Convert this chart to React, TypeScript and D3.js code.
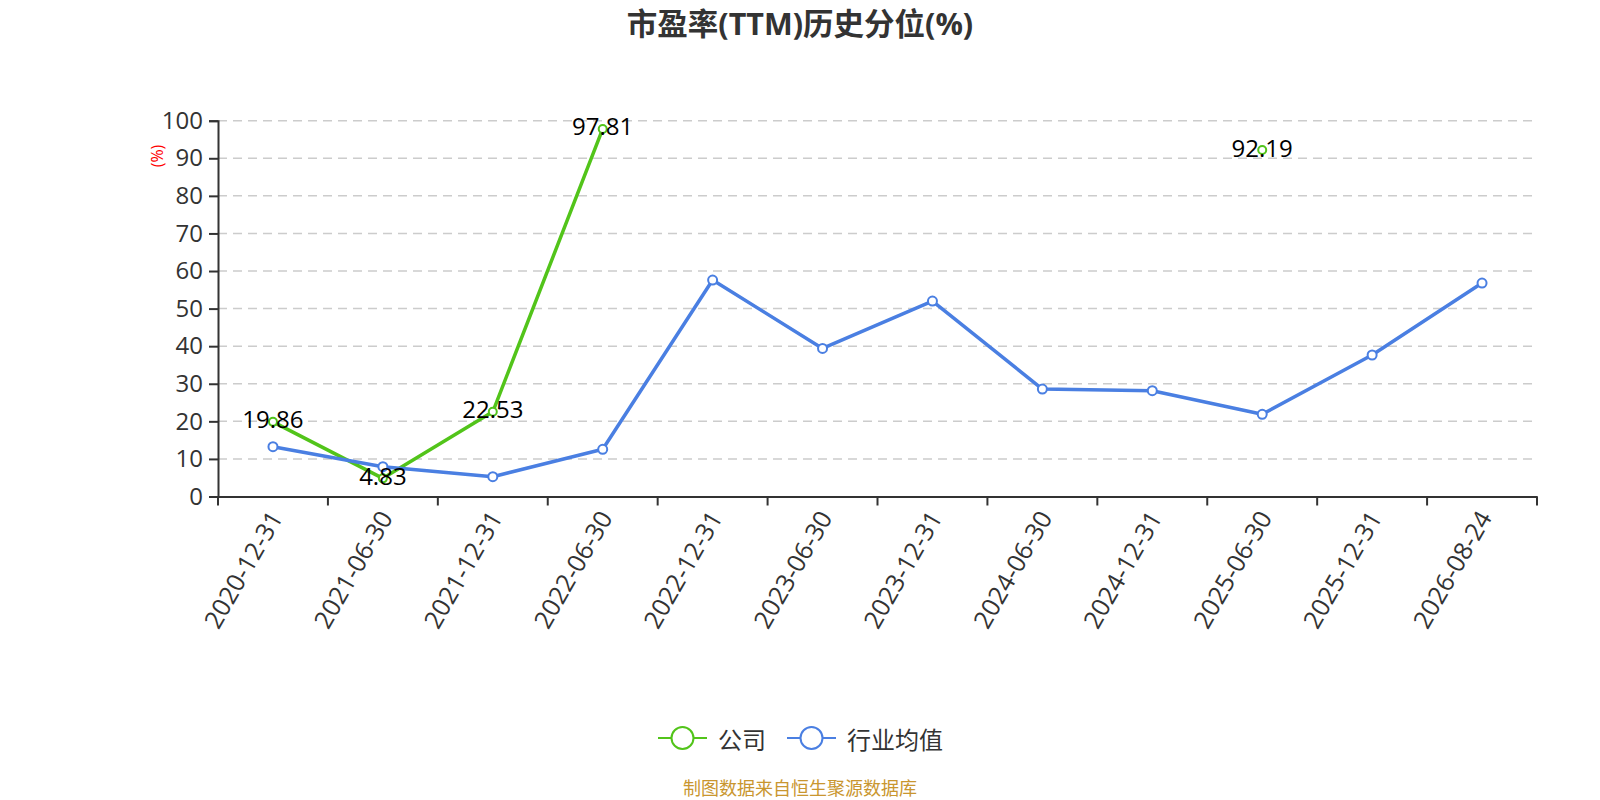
import React, { useEffect, useRef } from 'react';
import * as d3 from 'd3';

const categories = [
  '2020-12-31', '2021-06-30', '2021-12-31', '2022-06-30', '2022-12-31', '2023-06-30',
  '2023-12-31', '2024-06-30', '2024-12-31', '2025-06-30', '2025-12-31', '2026-08-24',
];
const companyValues: (number | null)[] = [19.86, 4.83, 22.53, 97.81, null, null, null, null, null, 92.19, null, null];
const industryValues: (number | null)[] = [13.25, 7.93, 5.27, 12.56, 57.6, 39.4, 52.0, 28.6, 28.15, 21.87, 37.65, 56.8];
const yTicks = [0, 10, 20, 30, 40, 50, 60, 70, 80, 90, 100];

const FONT = '"Open Sans", "Noto Sans CJK SC", sans-serif';
const CJK = '"Noto Sans CJK SC", "Open Sans", sans-serif';
const GREEN = '#52c41a';
const BLUE = '#4a7fe2';

const App: React.FC = () => {
  const svgRef = useRef<SVGSVGElement>(null);

  useEffect(() => {
    if (!svgRef.current) return;
    const svg = d3.select(svgRef.current);
    svg.selectAll('*').remove();

    const width = 1600;
    const margin = { top: 120.7, left: 218, right: 63, bottom: 303.5 };
    const plotBottom = 800 - margin.bottom;

    const x = d3.scaleBand().domain(categories).range([margin.left, width - margin.right]);
    const y = d3.scaleLinear().domain([0, 100]).range([plotBottom, margin.top]);
    const cx = (c: string) => (x(c) as number) + x.bandwidth() / 2;

    // title
    svg.append('text')
      .attr('x', 800).attr('y', 23)
      .attr('text-anchor', 'middle').attr('dominant-baseline', 'central')
      .style('font-family', FONT).style('font-size', '30.5px').style('font-weight', 'bold')
      .attr('fill', '#333').text('市盈率(TTM)历史分位(%)');

    // grid lines
    svg.selectAll('.grid')
      .data(yTicks.filter(d => d > 0))
      .enter().append('line')
      .attr('x1', margin.left).attr('x2', width - margin.right)
      .attr('y1', d => y(d)).attr('y2', d => y(d))
      .attr('stroke', '#cccccc').attr('stroke-width', 1.5).attr('stroke-dasharray', '9,6');

    // y axis
    const yAxis = svg.append('g').attr('transform', `translate(${margin.left},0)`)
      .call(d3.axisLeft(y).tickValues(yTicks).tickSize(9).tickPadding(6));
    yAxis.select('.domain').attr('stroke', '#333').attr('stroke-width', 2);
    yAxis.selectAll('.tick line').attr('stroke', '#333').attr('stroke-width', 2);
    yAxis.selectAll('.tick text')
      .style('font-family', FONT).style('font-size', '24px').attr('fill', '#333');

    svg.append('text')
      .attr('transform', `translate(157,156) rotate(-90)`)
      .attr('text-anchor', 'middle').attr('dominant-baseline', 'central')
      .style('font-family', FONT).style('font-size', '16px').attr('fill', '#ff0000').text('(%)');

    // x axis
    const xAxis = svg.append('g').attr('transform', `translate(0,${plotBottom})`)
      .call(d3.axisBottom(x).tickSize(0).tickFormat(() => ''));
    xAxis.select('.domain').attr('stroke', '#333').attr('stroke-width', 2);
    xAxis.selectAll('.tick').remove();
    const bounds = categories.map(c => x(c) as number).concat([width - margin.right]);
    svg.selectAll('.xtick').data(bounds).enter().append('line')
      .attr('x1', d => d).attr('x2', d => d)
      .attr('y1', plotBottom).attr('y2', plotBottom + 9)
      .attr('stroke', '#333').attr('stroke-width', 2);
    svg.selectAll('.xlabel').data(categories).enter().append('text')
      .attr('transform', d => `translate(${cx(d) + 2},${plotBottom + 16}) rotate(-60)`)
      .attr('text-anchor', 'end').attr('dominant-baseline', 'central')
      .style('font-family', FONT).style('font-size', '25px').attr('fill', '#333')
      .text(d => d);

    // series
    const series = [
      { name: '公司', values: companyValues, color: GREEN, r: 4, labels: true },
      { name: '行业均值', values: industryValues, color: BLUE, r: 4.5, labels: false },
    ];
    const line = d3.line<number | null>()
      .defined(d => d !== null)
      .x((_, i) => cx(categories[i]))
      .y(d => y(d as number));

    series.forEach(s => {
      svg.append('path').datum(s.values).attr('d', line)
        .attr('fill', 'none').attr('stroke', s.color).attr('stroke-width', 3.5)
        .attr('stroke-linejoin', 'round');
      svg.selectAll(null)
        .data(s.values.map((v, i) => ({ v, c: categories[i] })).filter(d => d.v !== null))
        .enter().append('circle')
        .attr('cx', d => cx(d.c)).attr('cy', d => y(d.v as number)).attr('r', s.r)
        .attr('fill', '#fff').attr('stroke', s.color).attr('stroke-width', 2);
    });

    // labels
    series.filter(s => s.labels).forEach(s => {
      svg.selectAll(null)
        .data(s.values.map((v, i) => ({ v, c: categories[i] })).filter(d => d.v !== null))
        .enter().append('text')
        .attr('x', d => cx(d.c)).attr('y', d => y(d.v as number) - 3)
        .attr('text-anchor', 'middle').attr('dominant-baseline', 'central')
        .style('font-family', FONT).style('font-size', '24px').attr('fill', '#000')
        .text(d => (d.v as number).toFixed(2));
    });

    // legend
    const legendItems = [
      { name: '公司', color: GREEN, x: 658 },
      { name: '行业均值', color: BLUE, x: 787 },
    ];
    legendItems.forEach(l => {
      const g = svg.append('g').attr('transform', `translate(${l.x},738)`);
      g.append('line').attr('x1', 0).attr('x2', 49).attr('y1', 0).attr('y2', 0)
        .attr('stroke', l.color).attr('stroke-width', 2);
      g.append('circle').attr('cx', 24.5).attr('cy', 0).attr('r', 11)
        .attr('fill', '#fff').attr('stroke', l.color).attr('stroke-width', 2);
      g.append('text').attr('x', 60).attr('y', 0).attr('dominant-baseline', 'central')
        .style('font-family', CJK).style('font-size', '24px').attr('fill', '#333').text(l.name);
    });

    // source
    svg.append('text')
      .attr('x', 800).attr('y', 787)
      .attr('text-anchor', 'middle').attr('dominant-baseline', 'central')
      .style('font-family', CJK).style('font-size', '18px').attr('fill', '#c9962f')
      .text('制图数据来自恒生聚源数据库');
  }, []);

  return (
    <svg ref={svgRef} width={1600} height={800}
      style={{ position: 'absolute', left: 0, top: 0, background: '#fff' }} />
  );
};

export default App;
